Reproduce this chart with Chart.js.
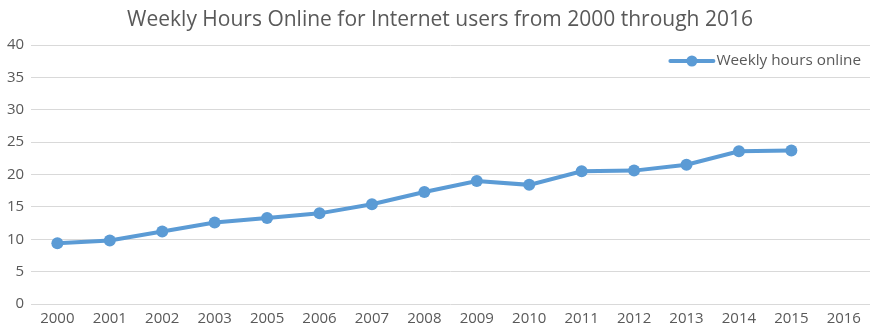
<!DOCTYPE html>
<html>
<head>
<meta charset="utf-8">
<script src="https://cdn.jsdelivr.net/npm/chart.js@4/dist/chart.umd.min.js"></script>
<style>
  html, body { margin: 0; padding: 0; background: #fff; }
  #wrap { width: 876px; height: 328px; }
</style>
</head>
<body>
<div id="wrap"><canvas id="lineChart"></canvas></div>
<script>
const years = ['2000', '2001', '2002', '2003', '2005', '2006', '2007', '2008',
               '2009', '2010', '2011', '2012', '2013', '2014', '2015', '2016'];
const hoursOnline = [9.4, 9.8, 11.2, 12.6, 13.3, 14.0, 15.4, 17.3,
                     19.0, 18.4, 20.5, 20.6, 21.5, 23.6, 23.7, null];
const yTicks = [0, 5, 10, 15, 20, 25, 30, 35, 40];

const blue = '#5B9BD5';
const grey = '#595959';
const fontFamily = '"Open Sans", sans-serif';

// legend drawn inside the plot, top right: line + dot, then the label
const insideLegend = {
    id: 'insideLegend',
    afterDatasetsDraw(chart) {
        const g = chart.ctx;
        const area = chart.chartArea;
        const ds = chart.data.datasets[0];
        g.save();
        g.font = '15.3px ' + fontFamily;
        const textW = g.measureText(ds.label).width;
        const textX = area.right - 9 - textW;
        const y = area.top + 16;
        const lineEnd = textX - 3;
        const lineStart = lineEnd - 43;
        g.strokeStyle = ds.borderColor;
        g.lineWidth = 4;
        g.lineCap = 'round';
        g.beginPath();
        g.moveTo(lineStart, y);
        g.lineTo(lineEnd, y);
        g.stroke();
        g.fillStyle = ds.borderColor;
        g.beginPath();
        g.arc((lineStart + lineEnd) / 2, y, 5.5, 0, Math.PI * 2);
        g.fill();
        g.fillStyle = grey;
        g.textBaseline = 'middle';
        g.textAlign = 'left';
        g.fillText(ds.label, textX, y);
        g.restore();
    }
};

const ctx = document.getElementById('lineChart').getContext('2d');
new Chart(ctx, {
    type: 'line',
    data: {
        labels: years,
        datasets: [{
            label: 'Weekly hours online',
            data: hoursOnline,
            borderColor: blue,
            backgroundColor: blue,
            borderWidth: 4,
            pointRadius: 6,
            pointBackgroundColor: blue,
            pointBorderWidth: 0,
            tension: 0
        }]
    },
    options: {
        responsive: true,
        maintainAspectRatio: false,
        animation: false,
        layout: { padding: { left: 0, right: -4, top: 0, bottom: -6 } },
        plugins: {
            title: {
                display: true,
                text: 'Weekly Hours Online for Internet users from 2000 through 2016',
                color: grey,
                font: { family: fontFamily, size: 21, weight: 'normal' },
                padding: { top: 7, bottom: 12.8 }
            },
            legend: { display: false },
            tooltip: { enabled: false }
        },
        scales: {
            x: {
                offset: true,
                grid: { display: false, drawTicks: false },
                border: { display: false },
                ticks: {
                    color: grey,
                    font: { family: fontFamily, size: 15 },
                    maxRotation: 0,
                    autoSkip: false,
                    padding: 6
                }
            },
            y: {
                min: 0,
                max: 40,
                afterBuildTicks(axis) {
                    axis.ticks = yTicks.map(v => ({ value: v }));
                },
                grid: { color: '#D9D9D9', lineWidth: 1, drawTicks: false },
                border: { display: false },
                ticks: {
                    color: grey,
                    font: { family: fontFamily, size: 15 },
                    padding: 7
                }
            }
        }
    },
    plugins: [insideLegend]
});
</script>
</body>
</html>
